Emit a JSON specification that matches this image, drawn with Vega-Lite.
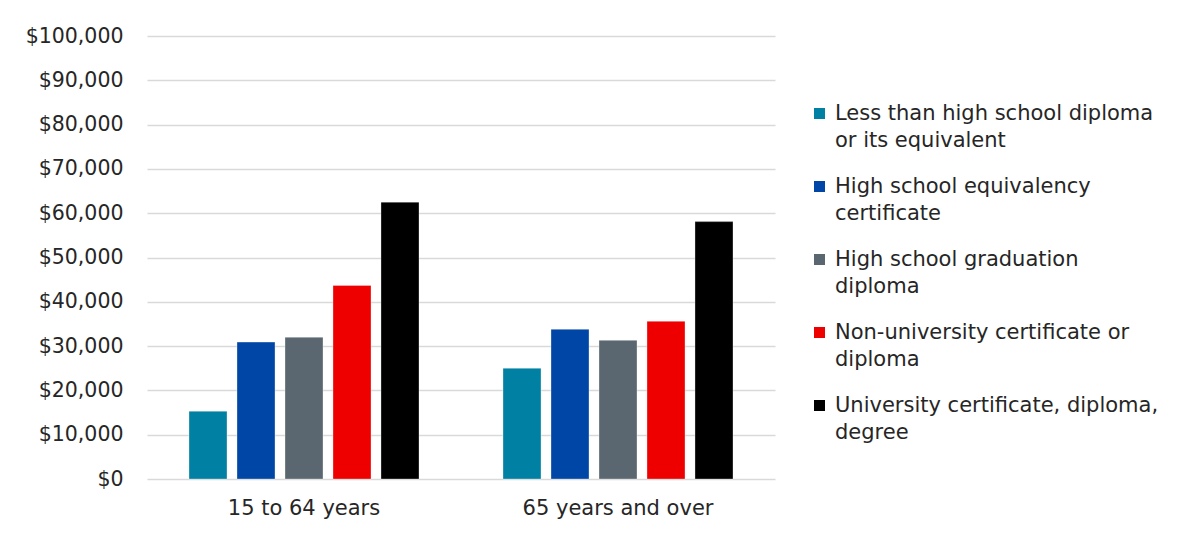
{
  "$schema": "https://vega.github.io/schema/vega-lite/v6.json",
  "width": 628,
  "height": 443,
  "autosize": {"type": "none"},
  "padding": {"left": 147, "top": 36, "right": 427, "bottom": 59},
  "background": "white",
  "data": {
    "values": [
      {"age": "15 to 64 years", "education": "Less than high school diploma or its equivalent", "income": 15300},
      {"age": "15 to 64 years", "education": "High school equivalency certificate", "income": 30900},
      {"age": "15 to 64 years", "education": "High school graduation diploma", "income": 32000},
      {"age": "15 to 64 years", "education": "Non-university certificate or diploma", "income": 43700},
      {"age": "15 to 64 years", "education": "University certificate, diploma, degree", "income": 62500},
      {"age": "65 years and over", "education": "Less than high school diploma or its equivalent", "income": 25000},
      {"age": "65 years and over", "education": "High school equivalency certificate", "income": 33800},
      {"age": "65 years and over", "education": "High school graduation diploma", "income": 31300},
      {"age": "65 years and over", "education": "Non-university certificate or diploma", "income": 35600},
      {"age": "65 years and over", "education": "University certificate, diploma, degree", "income": 58100}
    ]
  },
  "mark": {"type": "bar", "stroke": "white", "strokeOpacity": 0.4, "strokeWidth": 0.8},
  "encoding": {
    "x": {
      "field": "age", "type": "nominal",
      "scale": {"paddingInner": 0, "paddingOuter": 0},
      "axis": {"title": null, "labelAngle": 0, "ticks": false, "domain": false, "labelPadding": 18, "labelFontSize": 21, "labelColor": "#262626", "labelFont": "DejaVu Sans", "labelLimit": 400}
    },
    "xOffset": {
      "field": "education", "type": "nominal",
      "sort": ["Less than high school diploma or its equivalent", "High school equivalency certificate", "High school graduation diploma", "Non-university certificate or diploma", "University certificate, diploma, degree"],
      "scale": {"paddingInner": 0.208, "paddingOuter": 0.875}
    },
    "y": {
      "field": "income", "type": "quantitative",
      "scale": {"domain": [0, 100000], "nice": false},
      "axis": {"title": null, "values": [0,10000,20000,30000,40000,50000,60000,70000,80000,90000,100000], "format": "$,.0f", "domain": false, "ticks": false, "labelPadding": 24, "labelFontSize": 20.5, "labelColor": "#262626", "labelFont": "DejaVu Sans", "gridColor": "#d9d9d9", "gridWidth": 1.5}
    },
    "color": {
      "field": "education", "type": "nominal",
      "scale": {
        "domain": ["Less than high school diploma or its equivalent", "High school equivalency certificate", "High school graduation diploma", "Non-university certificate or diploma", "University certificate, diploma, degree"],
        "range": ["#0080A3", "#0046A6", "#5B6770", "#EE0000", "#000000"]
      },
      "legend": {
        "title": null,
        "orient": "none",
        "legendX": 662,
        "legendY": 67,
        "symbolType": "square",
        "symbolSize": 121,
        "symbolStrokeWidth": 0,
        "labelFontSize": 21,
        "labelFont": "DejaVu Sans",
        "labelColor": "#262626",
        "labelOffset": 5,
        "labelLimit": 420,
        "rowPadding": 24,
        "labelExpr": "datum.label == 'Less than high school diploma or its equivalent' ? ['Less than high school diploma', 'or its equivalent'] : datum.label == 'High school equivalency certificate' ? ['High school equivalency', 'certificate'] : datum.label == 'High school graduation diploma' ? ['High school graduation', 'diploma'] : datum.label == 'Non-university certificate or diploma' ? ['Non-university certificate or', 'diploma'] : ['University certificate, diploma,', 'degree']"
      }
    }
  },
  "config": {
    "view": {"stroke": null},
    "style": {"guide-label": {"lineHeight": 27}}
  }
}
